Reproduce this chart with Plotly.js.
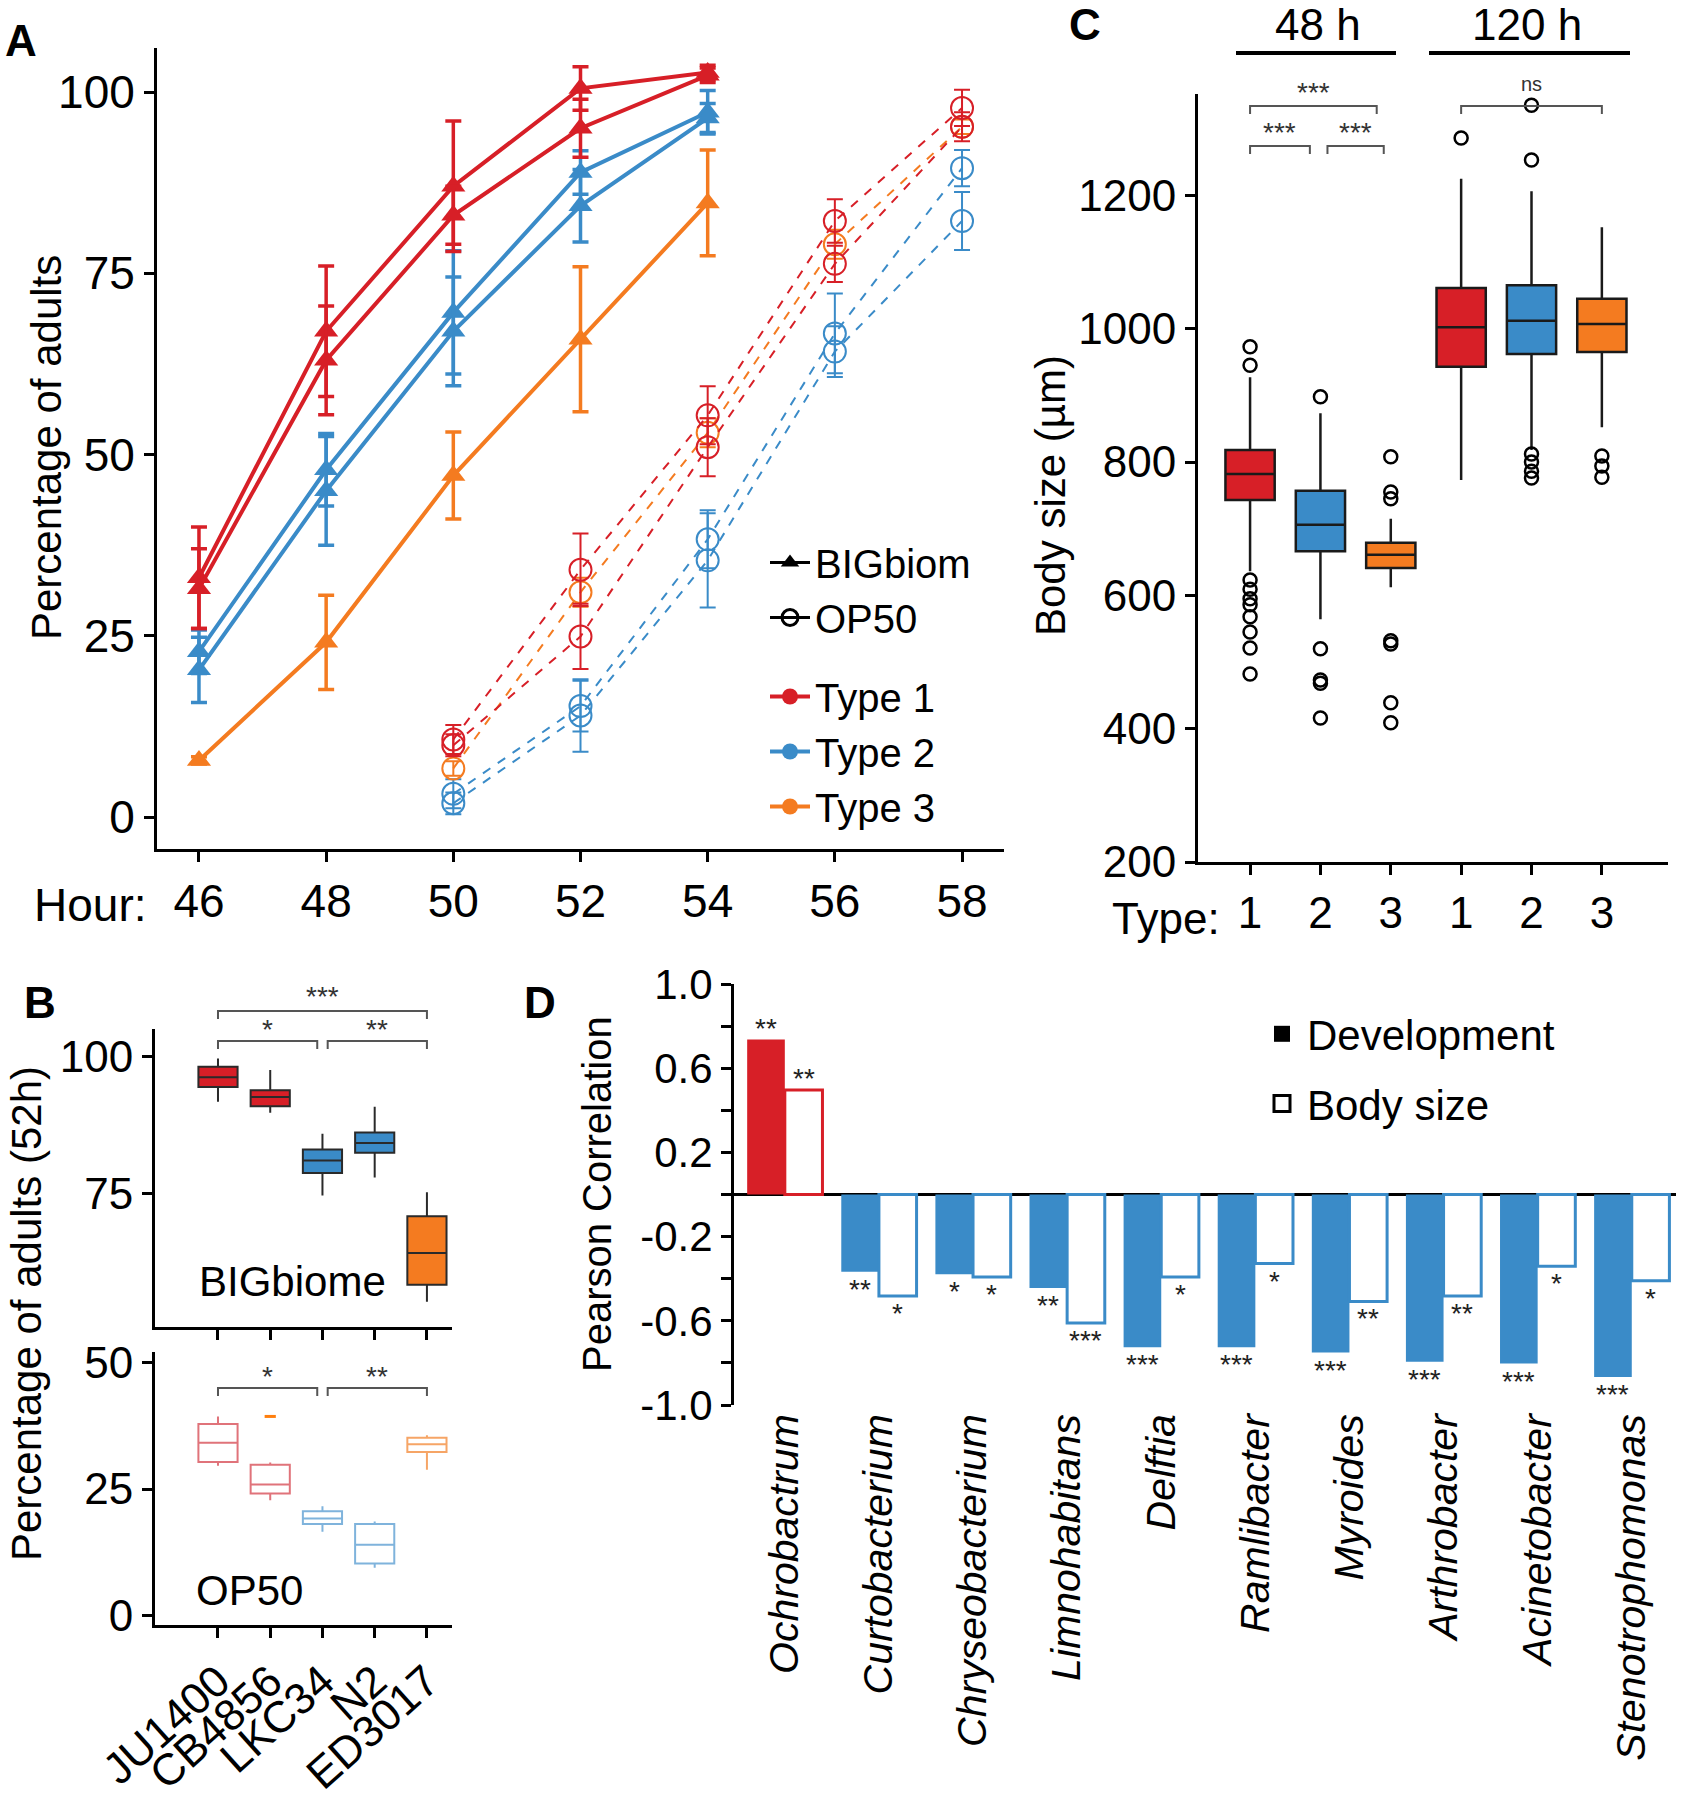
<!DOCTYPE html>
<html>
<head>
<meta charset="utf-8">
<script src="https://cdn.plot.ly/plotly-3.0.1.min.js"></script>
<style>
body { margin: 0; background: #fff; }
#fig { width: 1701px; height: 1800px; }
</style>
</head>
<body>
<div id="fig"></div>
<script>
// ---- panel A: development time courses ----
var hoursBig = [46, 48, 50, 52, 54];
var hoursOp = [50, 52, 54, 56, 58];
var bigType1a = [33, 67, 87, 100.5, 102.7];
var bigType1aErr = [7, 9, 9, 3, 1];
var bigType1b = [31.5, 63, 83, 95, 102.3];
var bigType1bErr = [5.5, 7.5, 4, 4, 1];
var bigType2a = [22.8, 47.9, 69.6, 88.9, 97.2];
var bigType2aErr = [3, 5, 8.5, 3, 3];
var bigType2b = [20.3, 45, 67, 84.3, 96.4];
var bigType2bErr = [4.5, 7.5, 7.5, 5, 2];
var bigType3 = [7.8, 24.1, 47.1, 65.9, 84.7];
var bigType3Err = [0.5, 6.5, 6, 10, 7.3];
var opType1a = [10.7, 34.1, 55.4, 82.2, 97.8];
var opType1aErr = [2, 5, 4, 3, 2.5];
var opType1b = [9.9, 24.9, 51, 76.3, 95.2];
var opType1bErr = [1.5, 4.5, 4, 2.5, 2];
var opType2a = [3.2, 15.3, 38.3, 66.7, 89.5];
var opType2aErr = [2, 3.5, 4, 5.5, 2.5];
var opType2b = [1.9, 14, 35.4, 64.2, 82.2];
var opType2bErr = [1.5, 5, 6.5, 3.5, 4];
var opType3 = [6.7, 31, 53, 79, 95.2];
var opType3Err = [1, 2, 2, 2, 1];

// ---- panel B: % adults at 52h per strain ----
var strains = ['JU1400', 'CB4856', 'LKC34', 'N2', 'ED3017'];
var strainType = [1, 1, 2, 2, 3];
var bigQ1 = [94.5, 91.0, 78.8, 82.5, 58.4];
var bigMed = [96.3, 92.7, 81.1, 84.3, 64.2];
var bigQ3 = [98.2, 93.9, 83.1, 86.2, 70.9];
var bigLo = [91.8, 89.8, 74.7, 78.0, 55.3];
var bigHi = [99.7, 97.6, 86.0, 90.9, 75.3];
var opQ1 = [30.3, 24.1, 18.1, 10.3, 32.3];
var opMed = [34.1, 25.9, 19.2, 14.0, 33.8];
var opQ3 = [37.8, 29.8, 20.6, 18.1, 35.1];
var opLo = [29.6, 22.8, 16.6, 9.5, 28.8];
var opHi = [39.3, 30.2, 21.6, 18.6, 35.6];
var opOutStrain = [1];
var opOutVal = [39.3];

// ---- panel C: body size ----
var sizeTicks = ['1', '2', '3', '1', '2', '3'];
var sizeType = [1, 2, 3, 1, 2, 3];
var sizeQ1 = [743, 666, 641, 943, 962, 965];
var sizeMed = [782, 706, 661, 1002, 1012, 1007];
var sizeQ3 = [818, 757, 679, 1061, 1065, 1045];
var sizeLo = [636, 564, 612, 773, 818, 852];
var sizeHi = [927, 873, 715, 1225, 1206, 1152];
var sizeOut = [
  [973, 945, 623, 609, 595, 586, 568, 545, 521, 482],
  [898, 520, 473, 468, 416],
  [808, 755, 745, 532, 527, 439, 409],
  [1286],
  [1335, 1253, 812, 800, 786, 776],
  [809, 794, 777]
];

// ---- panel D: correlations ----
var genera = ['Ochrobactrum', 'Curtobacterium', 'Chryseobacterium', 'Limnohabitans', 'Delftia',
  'Ramlibacter', 'Myroides', 'Arthrobacter', 'Acinetobacter', 'Stenotrophomonas'];
var devCorr = [0.736, -0.367, -0.379, -0.444, -0.726, -0.726, -0.751, -0.795, -0.803, -0.867];
var bodyCorr = [0.497, -0.482, -0.392, -0.610, -0.392, -0.328, -0.508, -0.482, -0.341, -0.410];
var devSig = ['**', '**', '*', '**', '***', '***', '***', '***', '***', '***'];
var bodySig = ['**', '*', '*', '***', '*', '*', '**', '**', '*', '*'];

var W = 1701, H = 1800;
function px(v) { return v / W; }
function py(v) { return 1 - v / H; }
var FONT = 'Liberation Sans, Arial, sans-serif';
var RED = '#d71f27', BLUE = '#3a8bc8', ORANGE = '#f47b20';
var typeColor = { 1: RED, 2: BLUE, 3: ORANGE };
var typeLight = { 1: '#e0737a', 2: '#7fb3dc', 3: '#f6a566' };

var traces = [];

function bigTrace(y, err, color) {
  return { x: hoursBig, y: y, type: 'scatter', mode: 'lines+markers',
    line: { color: color, width: 4 }, marker: { symbol: 'triangle-up', size: 21, color: color },
    error_y: { type: 'data', array: err, color: color, thickness: 3.5, width: 8 },
    showlegend: false, hoverinfo: 'skip', xaxis: 'x', yaxis: 'y' };
}
function opTrace(y, err, color) {
  return { x: hoursOp, y: y, type: 'scatter', mode: 'lines+markers',
    line: { color: color, width: 2, dash: 'dash' },
    marker: { symbol: 'circle-open', size: 22, color: color, line: { width: 2 } },
    error_y: { type: 'data', array: err, color: color, thickness: 2, width: 8 },
    showlegend: false, hoverinfo: 'skip', xaxis: 'x', yaxis: 'y' };
}
traces.push(opTrace(opType2a, opType2aErr, BLUE));
traces.push(opTrace(opType2b, opType2bErr, BLUE));
traces.push(opTrace(opType3, opType3Err, ORANGE));
traces.push(opTrace(opType1a, opType1aErr, RED));
traces.push(opTrace(opType1b, opType1bErr, RED));
traces.push(bigTrace(bigType3, bigType3Err, ORANGE));
traces.push(bigTrace(bigType2a, bigType2aErr, BLUE));
traces.push(bigTrace(bigType2b, bigType2bErr, BLUE));
traces.push(bigTrace(bigType1a, bigType1aErr, RED));
traces.push(bigTrace(bigType1b, bigType1bErr, RED));

// legend A
traces.push({ x: [null], y: [null], type: 'scatter', mode: 'lines+markers', name: 'BIGbiom',
  legend: 'legend', legendgroup: 'media', line: { color: 'black', width: 3 },
  marker: { symbol: 'triangle-up', size: 16, color: 'black' }, xaxis: 'x', yaxis: 'y' });
traces.push({ x: [null], y: [null], type: 'scatter', mode: 'lines+markers', name: 'OP50',
  legend: 'legend', legendgroup: 'media', line: { color: 'black', width: 3 },
  marker: { symbol: 'circle-open', size: 16, color: 'black', line: { width: 3 } }, xaxis: 'x', yaxis: 'y' });
[1, 2, 3].forEach(function (t) {
  traces.push({ x: [null], y: [null], type: 'scatter', mode: 'lines+markers', name: 'Type ' + t,
    legend: 'legend', legendgroup: 'type', line: { color: typeColor[t], width: 4 },
    marker: { symbol: 'circle', size: 16, color: typeColor[t] }, xaxis: 'x', yaxis: 'y' });
});

// panel B boxes
function pick(arr, idx) { return idx.map(function (i) { return arr[i]; }); }
[1, 2, 3].forEach(function (t) {
  var idx = [];
  strainType.forEach(function (s, i) { if (s === t) idx.push(i); });
  traces.push({ type: 'box', x: idx, q1: pick(bigQ1, idx), median: pick(bigMed, idx), q3: pick(bigQ3, idx),
    lowerfence: pick(bigLo, idx), upperfence: pick(bigHi, idx), width: 0.75, whiskerwidth: 0,
    fillcolor: typeColor[t], line: { color: '#2a2a2a', width: 2 }, boxpoints: false,
    showlegend: false, hoverinfo: 'skip', xaxis: 'x2', yaxis: 'y2' });
  traces.push({ type: 'box', x: idx, q1: pick(opQ1, idx), median: pick(opMed, idx), q3: pick(opQ3, idx),
    lowerfence: pick(opLo, idx), upperfence: pick(opHi, idx), width: 0.75, whiskerwidth: 0,
    fillcolor: 'rgba(0,0,0,0)', line: { color: typeLight[t], width: 2 }, boxpoints: false,
    showlegend: false, hoverinfo: 'skip', xaxis: 'x3', yaxis: 'y3' });
});
traces.push({ type: 'scatter', mode: 'markers', x: opOutStrain, y: opOutVal,
  marker: { symbol: 'line-ew-open', size: 8, line: { color: RED, width: 3 } },
  showlegend: false, hoverinfo: 'skip', xaxis: 'x3', yaxis: 'y3' });

// panel C boxes
[1, 2, 3].forEach(function (t) {
  var idx = [];
  sizeType.forEach(function (s, i) { if (s === t) idx.push(i); });
  traces.push({ type: 'box', x: idx.map(function (i) { return i + 1; }),
    q1: pick(sizeQ1, idx), median: pick(sizeMed, idx), q3: pick(sizeQ3, idx),
    lowerfence: pick(sizeLo, idx), upperfence: pick(sizeHi, idx), width: 0.7, whiskerwidth: 0,
    fillcolor: typeColor[t], line: { color: '#1a1a1a', width: 2.5 }, boxpoints: false,
    showlegend: false, hoverinfo: 'skip', xaxis: 'x4', yaxis: 'y4' });
});
sizeOut.forEach(function (vals, i) {
  traces.push({ type: 'scatter', mode: 'markers', x: vals.map(function () { return i + 1; }), y: vals,
    marker: { symbol: 'circle-open', size: 13, color: 'black', line: { width: 2.5 } },
    showlegend: false, hoverinfo: 'skip', xaxis: 'x4', yaxis: 'y4' });
});

// panel D bars
traces.push({ type: 'bar', x: genera, y: devCorr, name: 'Development', showlegend: false,
  marker: { color: devCorr.map(function (v) { return v > 0 ? RED : BLUE; }), line: { width: 0 } },
  hoverinfo: 'skip', xaxis: 'x5', yaxis: 'y5' });
traces.push({ type: 'bar', x: genera, y: bodyCorr, name: 'Body size', showlegend: false,
  marker: { color: 'white', line: { width: 3, color: bodyCorr.map(function (v) { return v > 0 ? RED : BLUE; }) } },
  hoverinfo: 'skip', xaxis: 'x5', yaxis: 'y5' });
traces.push({ x: [null], y: [null], type: 'scatter', mode: 'markers', name: 'Development',
  legend: 'legend2', legendgroup: 'dev', marker: { symbol: 'square', size: 16, color: 'black' },
  xaxis: 'x5', yaxis: 'y5' });
traces.push({ x: [null], y: [null], type: 'scatter', mode: 'markers', name: 'Body size',
  legend: 'legend2', legendgroup: 'body',
  marker: { symbol: 'square-open', size: 16, color: 'black', line: { width: 3 } },
  xaxis: 'x5', yaxis: 'y5' });

function ax(extra) {
  var base = { showline: true, linecolor: 'black', linewidth: 3, ticks: 'outside', ticklen: 10,
    tickwidth: 3, tickcolor: 'black', showgrid: false, zeroline: false, fixedrange: true,
    tickfont: { size: 46, family: FONT, color: 'black' } };
  for (var k in extra) base[k] = extra[k];
  return base;
}

var annotations = [];
var shapes = [];
function label(text, x, y, size, opts) {
  var a = { text: text, x: x, y: y, xref: 'paper', yref: 'paper', showarrow: false,
    xanchor: 'center', yanchor: 'middle', font: { size: size, family: FONT, color: 'black' } };
  for (var k in (opts || {})) a[k] = opts[k];
  annotations.push(a);
}
label('<b>A</b>', px(21), py(40), 44);
label('<b>B</b>', px(40), py(1002), 44);
label('<b>C</b>', px(1085), py(25), 44);
label('<b>D</b>', px(540), py(1002), 44);
label('Hour:', px(148), py(905), 46, { xanchor: 'right' });
label('Type:', px(1222), py(918), 44, { xanchor: 'right' });
label('48 h', px(1318), py(25), 44);
label('120 h', px(1527), py(25), 44);
label('BIGbiome', px(292), py(1281), 42);
label('OP50', px(249), py(1590), 42);
label('Percentage of adults', px(46), py(448), 42, { textangle: -90 });
label('Percentage of adults (52h)', px(26), py(1314), 42, { textangle: -90 });
label('Body size (µm)', px(1050), py(496), 42, { textangle: -90 });
label('Pearson Correlation', px(597), py(1194), 40, { textangle: -90 });

shapes.push({ type: 'line', xref: 'paper', yref: 'paper', x0: px(1236), x1: px(1396), y0: py(53), y1: py(53),
  line: { color: 'black', width: 4 } });
shapes.push({ type: 'line', xref: 'paper', yref: 'paper', x0: px(1429), x1: px(1630), y0: py(53), y1: py(53),
  line: { color: 'black', width: 4 } });

function bracket(xref, x0, x1, barPx, textPx, text, size) {
  var yb = py(barPx), yt = py(barPx + 8);
  shapes.push({ type: 'path', xref: xref, yref: 'paper',
    path: 'M ' + x0 + ',' + yt + ' L ' + x0 + ',' + yb + ' L ' + x1 + ',' + yb + ' L ' + x1 + ',' + yt,
    line: { color: '#555', width: 2 } });
  annotations.push({ text: text, xref: xref, yref: 'paper', x: (x0 + x1) / 2, y: py(textPx), showarrow: false,
    xanchor: 'center', yanchor: 'middle', font: { size: size || 28, family: FONT, color: '#333' } });
}
bracket('x2', 0, 4, 1011, 996, '***');
bracket('x2', 0, 1.9, 1041, 1029, '*');
bracket('x2', 2.1, 4, 1041, 1029, '**');
bracket('x3', 0, 1.9, 1388, 1376, '*');
bracket('x3', 2.1, 4, 1388, 1376, '**');
bracket('x4', 1, 2.8, 106, 92, '***');
bracket('x4', 1, 1.85, 146, 132, '***');
bracket('x4', 2.1, 2.9, 146, 132, '***');
bracket('x4', 4, 6, 106, 84, 'ns', 20);

genera.forEach(function (g, i) {
  [[devCorr, devSig, -0.2], [bodyCorr, bodySig, 0.2]].forEach(function (s) {
    var v = s[0][i];
    annotations.push({ text: s[1][i], xref: 'x5', yref: 'y5', x: i + s[2], y: v, showarrow: false,
      xanchor: 'center', yanchor: v > 0 ? 'bottom' : 'top', yshift: v > 0 ? -6 : 0,
      font: { size: 28, family: FONT, color: '#222' } });
  });
});

var layout = {
  width: W, height: H, margin: { l: 0, r: 0, t: 0, b: 0 },
  paper_bgcolor: 'white', plot_bgcolor: 'rgba(0,0,0,0)',
  font: { family: FONT, color: 'black' },
  bargap: 0.2, bargroupgap: 0, boxmode: 'overlay',
  xaxis: ax({ domain: [px(157), px(1004)], range: [45.34, 58.66], tickvals: [46, 48, 50, 52, 54, 56, 58], anchor: 'y' }),
  yaxis: ax({ domain: [py(849), py(48)], range: [-4.41, 106.07], tickvals: [0, 25, 50, 75, 100], anchor: 'x' }),
  xaxis2: ax({ domain: [px(155), px(452)], range: [-1.206, 4.48], tickvals: [0, 1, 2, 3, 4],
    showticklabels: false, anchor: 'y2' }),
  yaxis2: ax({ domain: [py(1327), py(1029)], range: [50.7, 105.1], tickvals: [75, 100], anchor: 'x2',
    tickfont: { size: 44, family: FONT, color: 'black' } }),
  xaxis3: ax({ domain: [px(155), px(452)], range: [-1.206, 4.48], tickvals: [0, 1, 2, 3, 4],
    ticktext: strains, tickangle: -42, anchor: 'y3',
    tickfont: { size: 44, family: FONT, color: 'black' } }),
  yaxis3: ax({ domain: [py(1625), py(1352)], range: [-1.8, 52], tickvals: [0, 25, 50], anchor: 'x3',
    tickfont: { size: 44, family: FONT, color: 'black' } }),
  xaxis4: ax({ domain: [px(1198), px(1668)], range: [0.26, 6.94], tickvals: [1, 2, 3, 4, 5, 6],
    ticktext: sizeTicks, anchor: 'y4', tickfont: { size: 44, family: FONT, color: 'black' } }),
  yaxis4: ax({ domain: [py(862), py(94)], range: [200, 1352], tickvals: [200, 400, 600, 800, 1000, 1200],
    anchor: 'x4', tickfont: { size: 44, family: FONT, color: 'black' } }),
  xaxis5: ax({ domain: [px(734), px(1676)], range: [-0.54, 9.47], type: 'category', showline: false,
    ticks: '', tickangle: -90, anchor: 'y5',
    tickfont: { size: 41, family: FONT, color: 'black', style: 'italic' } }),
  yaxis5: ax({ domain: [py(1405), py(984)], range: [-1, 1],
    tickvals: [-1, -0.8, -0.6, -0.4, -0.2, 0, 0.2, 0.4, 0.6, 0.8, 1],
    ticktext: ['-1.0', '', '-0.6', '', '-0.2', '', '0.2', '', '0.6', '', '1.0'],
    tickfont: { size: 42, family: FONT, color: 'black' },
    zeroline: true, zerolinecolor: 'black', zerolinewidth: 3, anchor: 'x5' }),
  legend: { x: px(765), y: py(530), xanchor: 'left', yanchor: 'top', bgcolor: 'rgba(0,0,0,0)',
    font: { size: 40, family: FONT, color: 'black' }, tracegroupgap: 24, itemwidth: 40 },
  legend2: { x: px(1257), y: py(1000), xanchor: 'left', yanchor: 'top', bgcolor: 'rgba(0,0,0,0)',
    font: { size: 42, family: FONT, color: 'black' }, tracegroupgap: 12, itemwidth: 40 },
  annotations: annotations,
  shapes: shapes
};

Plotly.newPlot('fig', traces, layout, { staticPlot: true });
</script>
</body>
</html>
